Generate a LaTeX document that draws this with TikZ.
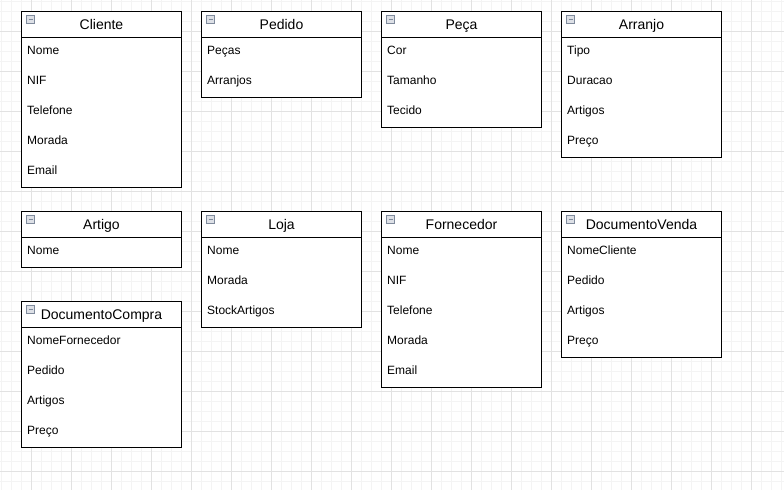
\documentclass[tikz,border=0pt]{standalone}
\usepackage{fontspec}
\setmainfont{Liberation Sans}
\definecolor{gridlight}{HTML}{F4F4F4}
\definecolor{griddark}{HTML}{E2E2E2}
\definecolor{iconborder}{HTML}{7F8A9C}
\definecolor{iconfill}{HTML}{DDE0E6}
\tikzset{
  header/.style={draw, line width=1pt, fill=white, anchor=north west, minimum width=160pt, minimum height=26pt, inner sep=0pt, text height=12pt, text depth=2pt, font=\fontsize{14}{16}\selectfont},
  body/.style={draw, line width=1pt, fill=white, anchor=north west, minimum width=160pt, inner sep=0pt},
  attr/.style={anchor=base west, inner sep=0pt, font=\fontsize{12}{14}\selectfont},
  minusbox/.style={draw=iconborder, fill=iconfill, line width=0.8pt, minimum size=8pt, inner sep=0pt,
    path picture={\draw[line width=1.2pt] ([xshift=2pt]path picture bounding box.west) -- ([xshift=-2pt]path picture bounding box.east);}}
}
\begin{document}
\begin{tikzpicture}[x=1pt,y=-1pt]
        \useasboundingbox[fill=white] (0,0) rectangle (784,490);
        % grid
        \foreach \g in {1,11,...,781} \draw[gridlight,line width=0.7pt] (\g,0) -- (\g,490);
        \foreach \g in {1,11,...,481} \draw[gridlight,line width=0.7pt] (0,\g) -- (784,\g);
        \foreach \g in {31,71,...,751} \draw[griddark,line width=0.7pt] (\g,0) -- (\g,490);
        \foreach \g in {31,71,...,471} \draw[griddark,line width=0.7pt] (0,\g) -- (784,\g);

        % Cliente
        \node[body, minimum height=150pt] (clienteB) at (21,37) {};
        \node[header] (cliente) at (21,11) {Cliente};
        \node[minusbox] (clienteM) at (30.5,19.5) {};
        \node[attr] (cliente1) at (27,54) {Nome};
        \node[attr] (cliente2) at (27,84) {NIF};
        \node[attr] (cliente3) at (27,114) {Telefone};
        \node[attr] (cliente4) at (27,144) {Morada};
        \node[attr] (cliente5) at (27,174) {Email};

        % Pedido
        \node[body, minimum height=60pt] (pedidoB) at (201,37) {};
        \node[header] (pedido) at (201,11) {Pedido};
        \node[minusbox] (pedidoM) at (210.5,19.5) {};
        \node[attr] (pedido1) at (207,54) {Peças};
        \node[attr] (pedido2) at (207,84) {Arranjos};

        % Peca
        \node[body, minimum height=90pt] (pecaB) at (381,37) {};
        \node[header] (peca) at (381,11) {Peça};
        \node[minusbox] (pecaM) at (390.5,19.5) {};
        \node[attr] (peca1) at (387,54) {Cor};
        \node[attr] (peca2) at (387,84) {Tamanho};
        \node[attr] (peca3) at (387,114) {Tecido};

        % Arranjo
        \node[body, minimum height=120pt] (arranjoB) at (561,37) {};
        \node[header] (arranjo) at (561,11) {Arranjo};
        \node[minusbox] (arranjoM) at (570.5,19.5) {};
        \node[attr] (arranjo1) at (567,54) {Tipo};
        \node[attr] (arranjo2) at (567,84) {Duracao};
        \node[attr] (arranjo3) at (567,114) {Artigos};
        \node[attr] (arranjo4) at (567,144) {Preço};

        % Artigo
        \node[body, minimum height=30pt] (artigoB) at (21,237) {};
        \node[header] (artigo) at (21,211) {Artigo};
        \node[minusbox] (artigoM) at (30.5,219.5) {};
        \node[attr] (artigo1) at (27,254) {Nome};

        % Loja
        \node[body, minimum height=90pt] (lojaB) at (201,237) {};
        \node[header] (loja) at (201,211) {Loja};
        \node[minusbox] (lojaM) at (210.5,219.5) {};
        \node[attr] (loja1) at (207,254) {Nome};
        \node[attr] (loja2) at (207,284) {Morada};
        \node[attr] (loja3) at (207,314) {StockArtigos};

        % Fornecedor
        \node[body, minimum height=150pt] (fornecedorB) at (381,237) {};
        \node[header] (fornecedor) at (381,211) {Fornecedor};
        \node[minusbox] (fornecedorM) at (390.5,219.5) {};
        \node[attr] (fornecedor1) at (387,254) {Nome};
        \node[attr] (fornecedor2) at (387,284) {NIF};
        \node[attr] (fornecedor3) at (387,314) {Telefone};
        \node[attr] (fornecedor4) at (387,344) {Morada};
        \node[attr] (fornecedor5) at (387,374) {Email};

        % DocumentoVenda
        \node[body, minimum height=120pt] (vendaB) at (561,237) {};
        \node[header] (venda) at (561,211) {DocumentoVenda};
        \node[minusbox] (vendaM) at (570.5,219.5) {};
        \node[attr] (venda1) at (567,254) {NomeCliente};
        \node[attr] (venda2) at (567,284) {Pedido};
        \node[attr] (venda3) at (567,314) {Artigos};
        \node[attr] (venda4) at (567,344) {Preço};

        % DocumentoCompra
        \node[body, minimum height=120pt] (compraB) at (21,327) {};
        \node[header] (compra) at (21,301) {DocumentoCompra};
        \node[minusbox] (compraM) at (30.5,309.5) {};
        \node[attr] (compra1) at (27,344) {NomeFornecedor};
        \node[attr] (compra2) at (27,374) {Pedido};
        \node[attr] (compra3) at (27,404) {Artigos};
        \node[attr] (compra4) at (27,434) {Preço};
    \end{tikzpicture}
\end{document}
